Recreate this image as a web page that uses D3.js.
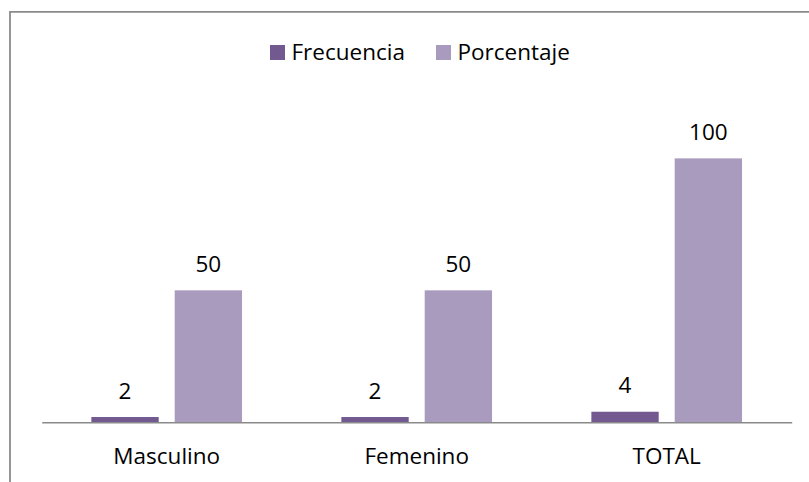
<!DOCTYPE html>
<html>
<head>
<meta charset="utf-8">
<script src="https://cdn.jsdelivr.net/npm/d3@7"></script>
<style>
  html, body { margin: 0; padding: 0; background: #fff; }
  svg { display: block; }
  text { font-family: "Open Sans", "Liberation Sans", sans-serif; fill: #000; }
</style>
</head>
<body>
<svg id="chart" width="809" height="482"></svg>
<script>
const categories = ["Masculino", "Femenino", "TOTAL"];
const seriesNames = ["Frecuencia", "Porcentaje"];
const frecuencia = [2, 2, 4];
const porcentaje = [50, 50, 100];
const colors = ["#725A91", "#A99BBD"];

const svg = d3.select("#chart");
const W = 809, H = 482;
const plot = { left: 41.7, right: 791.7, bottom: 422.3, top: 105.6 };

// Outer frame (extends beyond the visible area on right and bottom)
svg.append("path")
  .attr("d", `M10,${H + 5} L10,11.8 L${W + 5},11.8`)
  .attr("fill", "none")
  .attr("stroke", "#8a8a8a")
  .attr("stroke-width", 1.8);

const x = d3.scaleBand().domain(categories).range([plot.left, plot.right]).paddingInner(0).paddingOuter(0);
const xs = d3.scaleBand().domain(seriesNames).range([0, x.bandwidth()]).paddingInner(0.192).paddingOuter(0.596);
const y = d3.scaleLinear().domain([0, 120]).range([plot.bottom, plot.top]);

const data = categories.map((c, i) => ({ cat: c, vals: [frecuencia[i], porcentaje[i]] }));

const groups = svg.append("g").selectAll("g").data(data).join("g")
  .attr("transform", d => `translate(${x(d.cat)},0)`);

groups.selectAll("rect").data(d => d.vals.map((v, j) => ({ s: seriesNames[j], v, j }))).join("rect")
  .attr("x", d => xs(d.s))
  .attr("width", xs.bandwidth())
  .attr("y", d => y(d.v))
  .attr("height", d => y(0) - y(d.v))
  .attr("fill", d => colors[d.j]);

groups.selectAll("text.lbl").data(d => d.vals.map((v, j) => ({ s: seriesNames[j], v, j }))).join("text")
  .attr("class", "lbl")
  .attr("x", d => xs(d.s) + xs.bandwidth() / 2)
  .attr("y", d => y(d.v) - 18.5)
  .attr("text-anchor", "middle")
  .style("font-size", "22.5px")
  .text(d => d.v);

// Category axis
const xAxis = d3.axisBottom(x).tickSize(0).tickPadding(0);
const gx = svg.append("g").attr("transform", `translate(0,${plot.bottom})`).call(xAxis);
gx.select(".domain").attr("stroke", "#8a8a8a").attr("stroke-width", 1.6);
gx.selectAll(".tick text")
  .attr("dy", null)
  .attr("y", 42)
  .style("font-size", "22.5px")
  .style("font-family", "\"Open Sans\", \"Liberation Sans\", sans-serif")
  .attr("fill", "#000");

// Legend
const legendX = [270, 436];
const legend = svg.append("g").selectAll("g").data(seriesNames).join("g")
  .attr("transform", (d, i) => `translate(${legendX[i]},45)`);
legend.append("rect").attr("width", 15).attr("height", 15).attr("fill", (d, i) => colors[i]);
legend.append("text").attr("x", 21.5).attr("y", 15)
  .style("font-size", "22.5px")
  .text(d => d);
</script>
</body>
</html>
